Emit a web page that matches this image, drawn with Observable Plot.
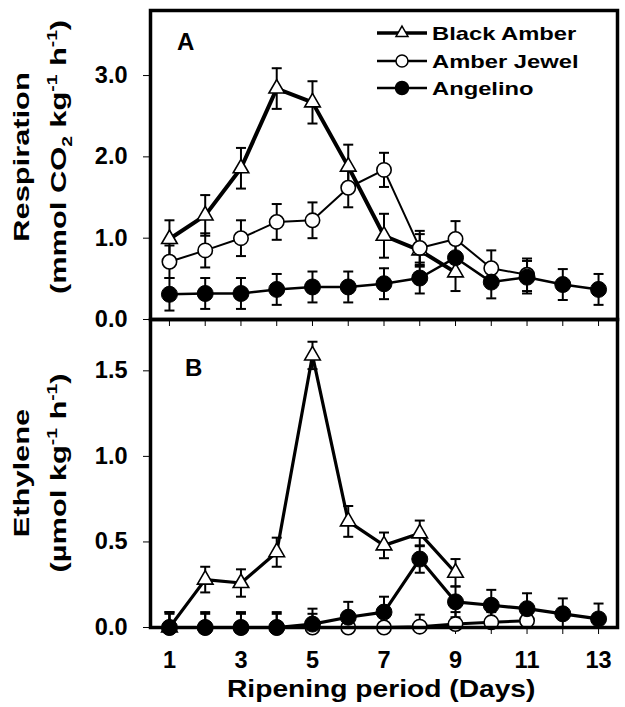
<!DOCTYPE html>
<html>
<head>
<meta charset="utf-8">
<script src="https://cdn.jsdelivr.net/npm/d3@7"></script>
<script src="https://cdn.jsdelivr.net/npm/@observablehq/plot@0.6"></script>
<style>
  body { margin: 0; background: white; }
  #chart { position: relative; width: 625px; height: 707px; }
  #chart svg { position: absolute; left: 0; top: 0; }
</style>
</head>
<body>
<div id="chart"></div>
<script>
// ---------- data ----------
const days = [1, 2, 3, 4, 5, 6, 7, 8, 9, 10, 11, 12, 13];
const seriesNames = ["Black Amber", "Amber Jewel", "Angelino"];

// Respiration (mmol CO2 kg-1 h-1)
const respBlackAmber    = [0.99, 1.28, 1.86, 2.84, 2.67, 1.88, 1.03, 0.85, 0.58];
const respBlackAmberErr = [0.23, 0.25, 0.25, 0.25, 0.26, 0.27, 0.27, 0.20, 0.23];
const respAmberJewel    = [0.71, 0.85, 1.00, 1.20, 1.22, 1.62, 1.84, 0.88, 0.99, 0.63, 0.55];
const respAmberJewelErr = [0.20, 0.21, 0.22, 0.22, 0.22, 0.24, 0.21, 0.21, 0.22, 0.22, 0.20];
const respAngelino      = [0.31, 0.32, 0.32, 0.37, 0.40, 0.40, 0.44, 0.51, 0.76, 0.46, 0.52, 0.43, 0.37];
const respAngelinoErr   = [0.20, 0.19, 0.19, 0.19, 0.19, 0.19, 0.19, 0.19, 0.20, 0.20, 0.20, 0.19, 0.19];

// Ethylene (umol kg-1 h-1)
const ethBlackAmber    = [0.00, 0.28, 0.26, 0.44, 1.59, 0.62, 0.48, 0.55, 0.32];
const ethBlackAmberErr = [0.09, 0.075, 0.08, 0.085, 0.08, 0.09, 0.075, 0.075, 0.08];
const ethAmberJewel    = [0.00, 0.00, 0.00, 0.00, 0.00, 0.00, 0.00, 0.005, 0.02, 0.03, 0.04];
const ethAmberJewelErr = [0.08, 0.08, 0.08, 0.08, 0.08, 0.08, 0.08, 0.07, 0.07, 0.06, 0.06];
const ethAngelino      = [0.00, 0.00, 0.00, 0.00, 0.02, 0.06, 0.09, 0.40, 0.15, 0.13, 0.11, 0.08, 0.05];
const ethAngelinoErr   = [0.09, 0.09, 0.09, 0.09, 0.09, 0.09, 0.09, 0.08, 0.09, 0.09, 0.09, 0.09, 0.09];

const respTicks = [0, 1, 2, 3];
const ethTicks = [0, 0.5, 1.0, 1.5];
const dayTicks = days;
const dayLabels = [1, 3, 5, 7, 9, 11, 13];

// ---------- helpers ----------
function series(vals, errs) {
  return vals.map((v, i) => ({day: days[i], v, lo: Math.max(0, v - errs[i]), hi: v + errs[i]}));
}
const capSymbol = {
  draw(ctx, size) {
    const w = Math.sqrt(size / Math.PI);
    ctx.moveTo(-w, 0);
    ctx.lineTo(w, 0);
  }
};
function errMarks(data) {
  return [
    Plot.ruleX(data, {x: "day", y1: "lo", y2: "hi", stroke: "black", strokeWidth: 2}),
    Plot.dot(data, {x: "day", y: "hi", symbol: capSymbol, r: 5, stroke: "black", strokeWidth: 2, fill: "none"}),
    Plot.dot(data, {x: "day", y: "lo", symbol: capSymbol, r: 5, stroke: "black", strokeWidth: 2, fill: "none"})
  ];
}
function panelMarks(ba, aj, an, widths) {
  return [
    ...errMarks(an), ...errMarks(aj), ...errMarks(ba),
    Plot.line(an, {x: "day", y: "v", stroke: "black", strokeWidth: widths[2]}),
    Plot.line(aj, {x: "day", y: "v", stroke: "black", strokeWidth: widths[1]}),
    Plot.line(ba, {x: "day", y: "v", stroke: "black", strokeWidth: widths[0]}),
    Plot.dot(ba, {x: "day", y: "v", symbol: "triangle", r: 5.8, fill: "white", stroke: "black", strokeWidth: 1.6}),
    Plot.dot(aj, {x: "day", y: "v", r: 7.2, fill: "white", stroke: "black", strokeWidth: 1.6}),
    Plot.dot(an, {x: "day", y: "v", r: 8, fill: "black", stroke: "black", strokeWidth: 1})
  ];
}

const W = 625, H = 707;
const font = "'Liberation Sans', Arial, sans-serif";
const common = {
  width: W, height: H, marginLeft: 150, marginRight: 8,
  x: {domain: [0.47, 13.53]},
  style: {background: "transparent", fontFamily: font, fontWeight: "bold", color: "black"}
};

// ---------- top panel: respiration ----------
const topPlot = Plot.plot({
  ...common,
  marginTop: 10, marginBottom: H - 319,
  y: {domain: [0, 3.8]},
  marks: [
    Plot.axisY({ticks: respTicks, tickFormat: d => d.toFixed(1), tickSize: 7, tickPadding: 16, fontSize: 23.5, label: null}),
    Plot.axisX({ticks: dayTicks, tickSize: 7, tickFormat: () => "", label: null}),
    ...panelMarks(series(respBlackAmber, respBlackAmberErr), series(respAmberJewel, respAmberJewelErr), series(respAngelino, respAngelinoErr), [4, 2, 2.5]),
    Plot.frame({stroke: "black", strokeWidth: 3.5})
  ]
});

// ---------- bottom panel: ethylene ----------
const bottomPlot = Plot.plot({
  ...common,
  marginTop: 319, marginBottom: H - 627,
  y: {domain: [0, 1.8]},
  marks: [
    Plot.axisY({ticks: ethTicks, tickFormat: d => d.toFixed(1), tickSize: 7, tickPadding: 16, fontSize: 23.5, label: null}),
    Plot.axisX({ticks: dayTicks, tickSize: 7, tickFormat: () => "", label: null}),
    Plot.axisX({ticks: dayLabels, tickSize: 0, tickPadding: 24, fontSize: 23.5, label: null}),
    ...panelMarks(series(ethBlackAmber, ethBlackAmberErr), series(ethAmberJewel, ethAmberJewelErr), series(ethAngelino, ethAngelinoErr), [3.2, 3, 3.2]),
    Plot.frame({stroke: "black", strokeWidth: 3.5})
  ]
});

const chart = document.getElementById("chart");
chart.appendChild(bottomPlot);
chart.appendChild(topPlot);

// ---------- annotations (titles, panel letters, legend) ----------
const svg = d3.select(topPlot);
const ann = svg.append("g")
  .attr("font-family", font).attr("font-weight", "bold").attr("fill", "black")
  .attr("text-anchor", "start");

// panel letters
ann.append("text").attr("x", 177).attr("y", 50).attr("font-size", 24).text("A");
ann.append("text").attr("x", 185).attr("y", 376).attr("font-size", 24).text("B");

// y titles (rotated, two lines)
function yTitle(line1, parts, cy) {
  const s = 1.37;
  ann.append("text")
    .attr("transform", `translate(29,${cy}) rotate(-90) scale(${s},1)`)
    .attr("text-anchor", "middle").attr("font-size", 22.5).text(line1);
  const t = ann.append("text")
    .attr("transform", `translate(66,${cy}) rotate(-90) scale(${s},1)`)
    .attr("text-anchor", "middle").attr("font-size", 22.5);
  for (const p of parts) {
    const ts = t.append("tspan").text(p.t);
    if (p.sup) ts.attr("font-size", 14).attr("dy", -9);
    if (p.sub) ts.attr("font-size", 14).attr("dy", 6);
    if (p.back) ts.attr("dy", p.back);
  }
}
yTitle("Respiration", [
  {t: "(mmol CO"}, {t: "2", sub: true}, {t: " kg", back: -6}, {t: "-1", sup: true}, {t: " h", back: 9}, {t: "-1", sup: true}, {t: ")", back: 9}
], 157);
yTitle("Ethylene", [
  {t: "(µmol kg"}, {t: "-1", sup: true}, {t: " h", back: 9}, {t: "-1", sup: true}, {t: ")", back: 9}
], 473);

// x title
ann.append("text")
  .attr("transform", "translate(227,697) scale(1.2,1)")
  .attr("font-size", 23.5).text("Ripening period (Days)");

// legend
const legRows = [33, 61, 88];
const legSyms = [
  {type: d3.symbolTriangle, size: 62, fill: "white", lw: 3.5},
  {type: d3.symbolCircle, size: 113, fill: "white", lw: 2.5},
  {type: d3.symbolCircle, size: 133, fill: "black", lw: 2.5}
];
seriesNames.forEach((name, i) => {
  const y = legRows[i];
  ann.append("line").attr("x1", 377).attr("x2", 427).attr("y1", y).attr("y2", y)
    .attr("stroke", "black").attr("stroke-width", legSyms[i].lw);
  ann.append("path").attr("transform", `translate(402,${y})`)
    .attr("d", d3.symbol().type(legSyms[i].type).size(legSyms[i].size)())
    .attr("fill", legSyms[i].fill).attr("stroke", "black").attr("stroke-width", 1.5);
  ann.append("text").attr("transform", `translate(432,${y + 7}) scale(1.25,1)`)
    .attr("font-size", 19).text(name);
});
</script>
</body>
</html>
